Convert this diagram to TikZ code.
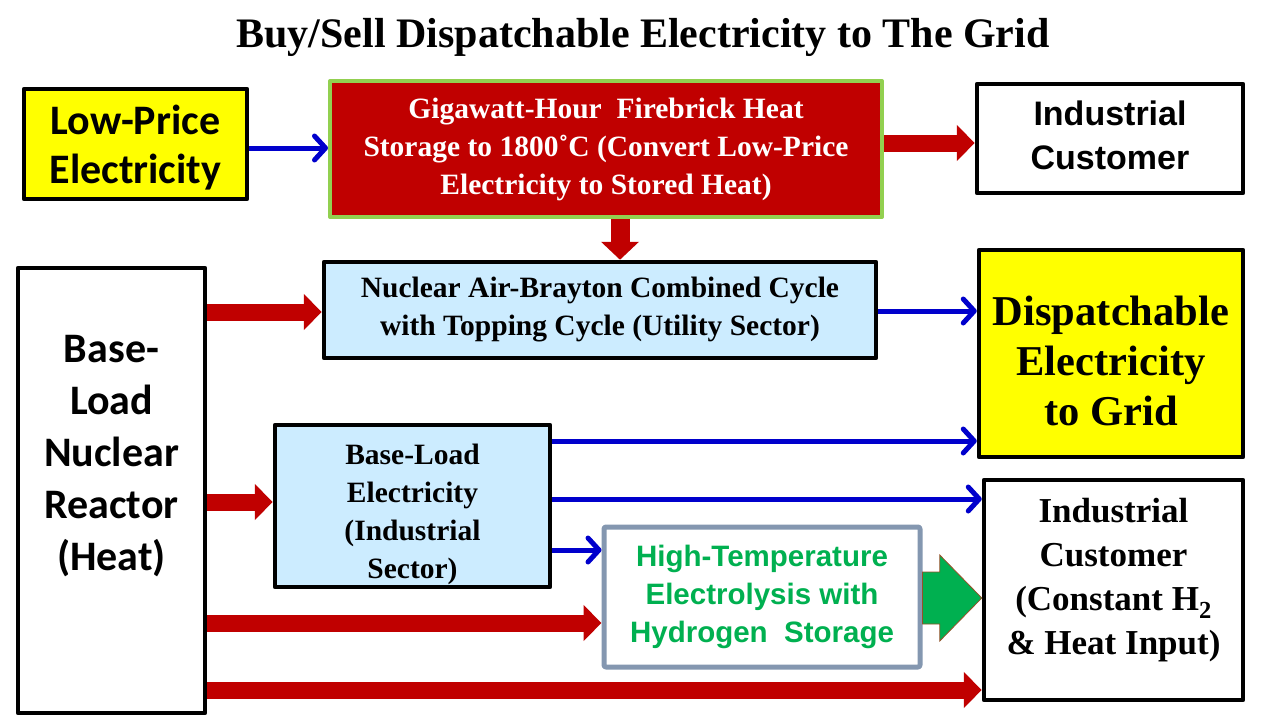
\documentclass[tikz,border=0pt]{standalone}
\usepackage{fontspec}
\setmainfont{Liberation Serif}
\newfontfamily\calfont{Carlito}
\newfontfamily\arialfont{Liberation Sans}
\usetikzlibrary{arrows.meta,calc}
\definecolor{redA}{RGB}{192,0,0}
\definecolor{blueA}{RGB}{0,0,204}
\definecolor{lblue}{RGB}{204,236,255}
\definecolor{yel}{RGB}{255,255,0}
\definecolor{greenA}{RGB}{0,176,80}
\definecolor{lgreen}{RGB}{146,208,80}
\definecolor{grayA}{RGB}{132,151,176}
\definecolor{brownA}{RGB}{150,80,40}
\tikzset{
  box/.style={draw=black, line width=4.5pt, line join=round, inner sep=0pt, align=center, text=black},
  redarrow/.style={draw=redA, line width=17pt, -{Triangle[length=18pt,width=35pt]}},
  bluearrow/.style={draw=blueA, line width=5pt, -{Straight Barb[length=11pt,width=24pt,round]}},
  greenarrow/.style={fill=greenA, draw=brownA, line width=0.8pt},
}
\begin{document}
\begin{tikzpicture}[x=1pt,y=-1pt]
\fill[white] (0,0) rectangle (1280,720);
\useasboundingbox (0,0) rectangle (1280,720);

\node (title) at (643,37) {\fontsize{42}{48}\selectfont\bfseries Buy/Sell Dispatchable Electricity to The Grid};

\node[box, fill=yel, minimum width=223, minimum height=110,
  label={[yshift=-4pt, align=center, font=\calfont\bfseries\fontsize{42}{49}\selectfont]center:{Low-Price\\Electricity}}] (lowp) at (135.5,144) {};

\node[box, draw=lgreen, line width=4pt, fill=redA, text=white, minimum width=552, minimum height=136, font=\bfseries\fontsize{29.5}{38}\selectfont] (fire) at (606,149) {Gigawatt-Hour~ Firebrick Heat\\Storage to 1800˚C (Convert Low-Price\\Electricity to Stored Heat)};

\node[box, minimum width=266, minimum height=109,
  label={[yshift=3pt, align=center, font=\arialfont\bfseries\fontsize{34}{44}\selectfont]center:{Industrial\\Customer}}] (ind1) at (1110,138.5) {};

\node[box, minimum width=187, minimum height=445,
  label={[yshift=34pt, align=center, font=\calfont\bfseries\fontsize{42}{52}\selectfont]center:{Base-\\Load\\Nuclear\\Reactor\\(Heat)}}] (reac) at (111.5,490.5) {};

\node[box, fill=lblue, minimum width=552, minimum height=96, font=\bfseries\fontsize{29.5}{38}\selectfont] (nabc) at (600,310) {Nuclear Air-Brayton Combined Cycle\\with Topping Cycle (Utility Sector)};

\node[box, fill=yel, minimum width=264, minimum height=207,
  label={[yshift=-7pt, align=center, font=\bfseries\fontsize{42.5}{50}\selectfont]center:{Dispatchable\\Electricity\\to Grid}}] (disp) at (1111,353.5) {};

\node[box, fill=lblue, minimum width=275, minimum height=162,
  label={[yshift=-8pt, align=center, font=\bfseries\fontsize{29.5}{38}\selectfont]center:{Base-Load\\Electricity\\(Industrial\\Sector)}}] (ble) at (412.5,506) {};

\node[box, draw=grayA, line width=5pt, fill=white, text=greenA, minimum width=316, minimum height=140, rounded corners=2pt, font=\arialfont\bfseries\fontsize{29.5}{38}\selectfont] (hte) at (762,597) {High-Temperature\\Electrolysis with\\Hydrogen~ Storage};

\node[box, minimum width=259, minimum height=220,
  label={[yshift=10pt, align=center, font=\bfseries\fontsize{35}{44}\selectfont]center:{Industrial\\Customer\\(Constant H\textsubscript{2}\\\& Heat Input)}}] (ind2) at (1113.5,590) {};

% connectors
\draw[bluearrow] (lowp.east |- 0,148) -- (fire.west |- 0,148);
\draw[redarrow] (fire.east |- 0,143) -- (ind1.west |- 0,143);
\draw[redarrow, line width=19pt, -{Triangle[length=18pt,width=37pt]}] (fire.south -| 620,0) -- (nabc.north -| 620,0);
\draw[redarrow] (reac.east |- 0,312) -- (nabc.west |- 0,312);
\draw[bluearrow] (nabc.east |- 0,311) -- (disp.west |- 0,311);
\draw[redarrow] (reac.east |- 0,502) -- (ble.west |- 0,502);
\draw[bluearrow] (ble.east |- 0,441) -- (disp.west |- 0,441);
\draw[bluearrow] (ble.east |- 0,499) -- (ind2.west |- 0,499);
\draw[bluearrow] (ble.east |- 0,550) -- (hte.west |- 0,550);
\draw[redarrow] (reac.east |- 0,623) -- (hte.west |- 0,623);
\draw[redarrow] (reac.east |- 0,690) -- (ind2.west |- 0,690);
\coordinate (gtip) at (ind2.west |- 0,598);
\coordinate (gbase) at (hte.east |- 0,598);
\draw[greenarrow] ($(gbase)+(0,-26)$) -- ($(gtip)+(-42,-26)$) -- ($(gtip)+(-42,-43)$) -- (gtip) -- ($(gtip)+(-42,43)$) -- ($(gtip)+(-42,26)$) -- ($(gbase)+(0,26)$) -- cycle;
\end{tikzpicture}
\end{document}
